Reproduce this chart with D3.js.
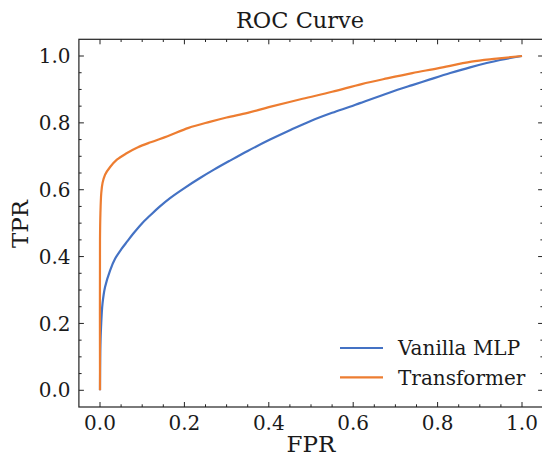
<!DOCTYPE html>
<html>
<head>
<meta charset="utf-8">
<script src="https://cdn.jsdelivr.net/npm/d3@7"></script>
<style>
  body { margin: 0; background: #fff; }
  text { font-family: "DejaVu Serif", serif; fill: #1a1a1a; }
</style>
</head>
<body>
<div id="chart"></div>
<script>
// ROC points
const mlpFpr = [0, 0.001, 0.0025, 0.006, 0.012, 0.024, 0.036, 0.051, 0.065, 0.079, 0.1, 0.118, 0.14, 0.166, 0.2, 0.237, 0.27, 0.308, 0.35, 0.403, 0.45, 0.498, 0.55, 0.592, 0.616, 0.687, 0.74, 0.782, 0.83, 0.877, 0.948, 1.0];
const mlpTpr = [0, 0.135, 0.19, 0.26, 0.309, 0.359, 0.394, 0.423, 0.446, 0.469, 0.50, 0.522, 0.548, 0.575, 0.605, 0.635, 0.66, 0.687, 0.716, 0.75, 0.778, 0.805, 0.83, 0.848, 0.859, 0.891, 0.913, 0.93, 0.949, 0.966, 0.988, 1.0];

const trfFpr = [0, 0, 0.001, 0.003, 0.006, 0.012, 0.024, 0.04, 0.063, 0.09, 0.12, 0.16, 0.21, 0.26, 0.30, 0.35, 0.40, 0.48, 0.55, 0.62, 0.68, 0.74, 0.8, 0.88, 0.94, 1.0];
const trfTpr = [0, 0.45, 0.53, 0.59, 0.62, 0.645, 0.668, 0.69, 0.709, 0.727, 0.742, 0.76, 0.785, 0.803, 0.816, 0.83, 0.847, 0.872, 0.893, 0.916, 0.933, 0.949, 0.963, 0.983, 0.992, 1.0];

const seriesNames = ["Vanilla MLP", "Transformer"];
const seriesColors = ["#4472C4", "#ED7D31"];
const tickValues = [0, 0.2, 0.4, 0.6, 0.8, 1.0];
const minorValues = d3.range(0, 21).map(i => i * 0.05).filter(v => Math.round(v * 100) % 20 !== 0);

const width = 542;
const height = 458;

const svg = d3.select("#chart")
  .append("svg")
  .attr("width", width)
  .attr("height", height);

// scales with matplotlib-like 5% margins
const x = d3.scaleLinear().domain([-0.05, 1.05]).range([78.9, 543.1]);
const y = d3.scaleLinear().domain([-0.05, 1.05]).range([407, 39.3]);

const [x0, x1] = x.range();
const [y0, y1] = y.range();

// curves
const series = [
  mlpFpr.map((f, i) => [f, mlpTpr[i]]),
  trfFpr.map((f, i) => [f, trfTpr[i]])
];

const line = d3.line()
  .x(d => x(d[0]))
  .y(d => y(d[1]))
  .curve(d3.curveCatmullRom.alpha(0.5));

svg.append("g")
  .selectAll("path")
  .data(series)
  .join("path")
  .attr("d", line)
  .attr("fill", "none")
  .attr("stroke", (d, i) => seriesColors[i])
  .attr("stroke-width", 2.2)
  .attr("stroke-linejoin", "round");

// inward ticks on all four sides
const major = 5, minor = 2.7;
const tickColor = "#222";

function ticks(vals, len, cls) {
  const g = svg.append("g").attr("class", cls).attr("stroke", tickColor).attr("stroke-width", 1);
  vals.forEach(v => {
    g.append("line").attr("x1", x(v)).attr("x2", x(v)).attr("y1", y0).attr("y2", y0 - len);
    g.append("line").attr("x1", x(v)).attr("x2", x(v)).attr("y1", y1).attr("y2", y1 + len);
    g.append("line").attr("y1", y(v)).attr("y2", y(v)).attr("x1", x0).attr("x2", x0 + len);
    g.append("line").attr("y1", y(v)).attr("y2", y(v)).attr("x1", x1).attr("x2", x1 - len);
  });
}
ticks(tickValues, major, "major");
ticks(minorValues, minor, "minor");

// frame
svg.append("rect")
  .attr("x", x0).attr("y", y1)
  .attr("width", x1 - x0).attr("height", y0 - y1)
  .attr("fill", "none")
  .attr("stroke", tickColor)
  .attr("stroke-width", 1.2);

// tick labels
svg.append("g")
  .selectAll("text")
  .data(tickValues)
  .join("text")
  .attr("x", d => x(d))
  .attr("y", 429.5)
  .attr("text-anchor", "middle")
  .style("font-size", "20px")
  .text(d => d.toFixed(1));

svg.append("g")
  .selectAll("text")
  .data(tickValues)
  .join("text")
  .attr("x", 70.5)
  .attr("y", d => y(d))
  .attr("dy", "0.36em")
  .attr("text-anchor", "end")
  .style("font-size", "20px")
  .text(d => d.toFixed(1));

// titles
svg.append("text")
  .attr("x", 300).attr("y", 28)
  .attr("text-anchor", "middle")
  .style("font-size", "22.5px")
  .text("ROC Curve");

svg.append("text")
  .attr("x", 311).attr("y", 452)
  .attr("text-anchor", "middle")
  .style("font-size", "23px")
  .text("FPR");

svg.append("text")
  .attr("transform", "translate(28,224) rotate(-90)")
  .attr("text-anchor", "middle")
  .style("font-size", "23px")
  .text("TPR");

// legend
const legend = svg.append("g").attr("transform", "translate(340,348)");
const legendRow = legend.selectAll("g")
  .data(seriesNames)
  .join("g")
  .attr("transform", (_, i) => `translate(0,${i * 29.3})`);

legendRow.append("line")
  .attr("x1", 0).attr("x2", 43)
  .attr("stroke", (d, i) => seriesColors[i])
  .attr("stroke-width", 2.2);

legendRow.append("text")
  .attr("x", 58)
  .attr("dy", "0.36em")
  .style("font-size", "20px")
  .text(d => d);
</script>
</body>
</html>
